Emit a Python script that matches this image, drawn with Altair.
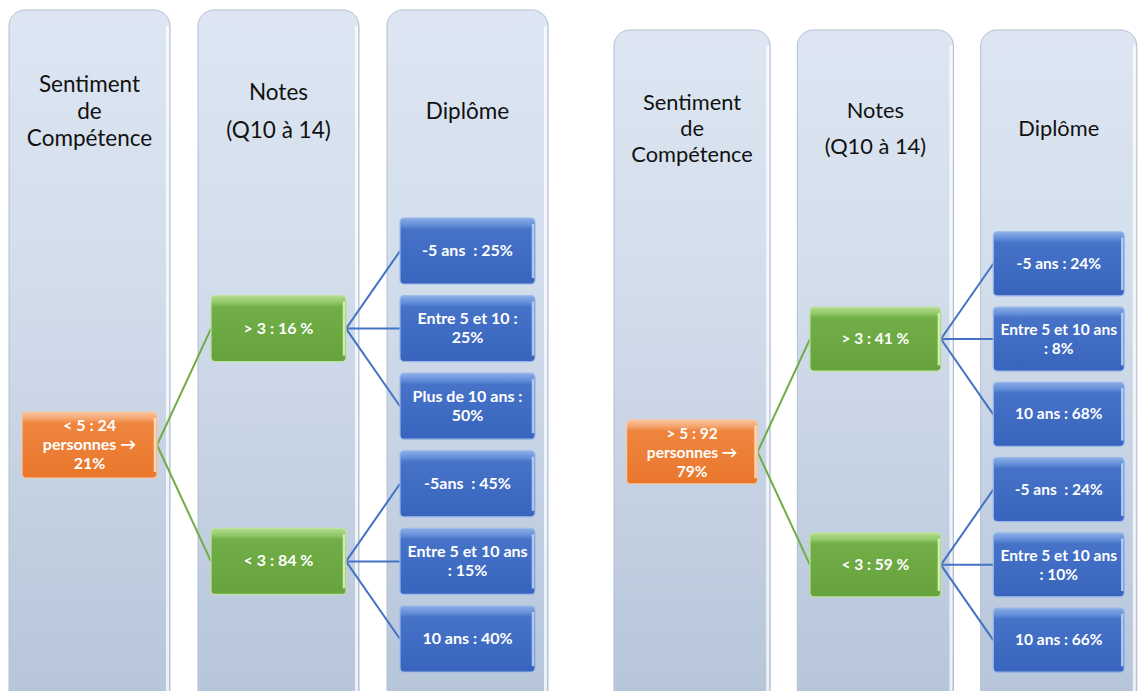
import altair as alt
import pandas as pd

# ---------------- data ----------------
col_titles = [["Sentiment", "de", "Compétence"], ["Notes", "(Q10 à 14)"], ["Diplôme"]]
root_labels = ["< 5 : 24\npersonnes →\n21%", "> 5 : 92\npersonnes →\n79%"]
mid_labels = [["> 3 : 16 %", "< 3 : 84 %"], ["> 3 : 41 %", "< 3 : 59 %"]]
leaf_labels = [
    ["-5 ans  : 25%", "Entre 5 et 10 :\n25%", "Plus de 10 ans :\n50%",
     "-5ans  : 45%", "Entre 5 et 10 ans\n: 15%", "10 ans : 40%"],
    ["-5 ans : 24%", "Entre 5 et 10 ans\n: 8%", "10 ans : 68%",
     "-5 ans  : 24%", "Entre 5 et 10 ans\n: 10%", "10 ans : 66%"],
]

# ---------------- layout (diagram geometry) ----------------
PANELS = [dict(ox=9, oy=10, s=1.0), dict(ox=614, oy=30, s=0.97)]
COL_STEP, COL_W, COL_H = 189, 161, 730
BOX_INSET, BOX_W, BOX_H = 13, 135, 66
LEAF_TOP, LEAF_STEP = 208, 77.6
TITLE_CY = 102
TITLE_SPACING = [27, 38, 27]
BOX_FS, BOX_LH, TITLE_FS = 16, 19, 22.5
W, H = 1130, 683
X0, Y0 = 8, 8

cols, titles, nodes, edges = [], [], [], []
for p, P in enumerate(PANELS):
    s, ox, oy = P["s"], P["ox"], P["oy"]
    X = lambda v: ox + s * v
    Y = lambda v: oy + s * v
    for c in range(3):
        cols.append(dict(x=X(c * COL_STEP), x2=X(c * COL_STEP + COL_W), y=Y(0), y2=Y(COL_H),
                         hx=X(c * COL_STEP + COL_W) - 2.5, hy=Y(16), hy2=Y(COL_H - 16)))
        lines = col_titles[c]
        n = len(lines)
        for i, t in enumerate(lines):
            titles.append(dict(x=X(c * COL_STEP + COL_W / 2),
                               y=Y(TITLE_CY + (i - (n - 1) / 2) * TITLE_SPACING[c]),
                               text=t, fs=TITLE_FS * s))

    def box(level, slot, label):
        x1 = level * COL_STEP + BOX_INSET
        top = LEAF_TOP + slot * LEAF_STEP
        nl = label.count("\n") + 1
        d = dict(level=level, text=label.replace("  ", " \u00a0"),
                 x=X(x1), x2=X(x1 + BOX_W), y=Y(top), y2=Y(top + BOX_H),
                 cx=X(x1 + BOX_W / 2), cy=Y(top + BOX_H / 2),
                 ty=Y(top + BOX_H / 2 - (nl - 1) * BOX_LH / 2),
                 hx=X(x1 + BOX_W) - 2, hy=Y(top + 6), hy2=Y(top + BOX_H - 6),
                 fs=BOX_FS * s, panel=p)
        nodes.append(d)
        return d

    leaf_slots = list(range(len(leaf_labels[p])))
    groups = [leaf_slots[0:3], leaf_slots[3:6]]
    mid_slots = [sum(g) / len(g) for g in groups]
    root_slot = sum(mid_slots) / len(mid_slots)
    r = box(0, root_slot, root_labels[p])
    for m, g in enumerate(groups):
        mb = box(1, mid_slots[m], mid_labels[p][m])
        edges.append(dict(level=1, x=r["x2"], y=r["cy"], x2=mb["x"], y2=mb["cy"]))
        for j in g:
            lb = box(2, j, leaf_labels[p][j])
            edges.append(dict(level=2, x=mb["x2"], y=mb["cy"], x2=lb["x"], y2=lb["cy"]))

cols_df = pd.DataFrame(cols)
titles_df = pd.DataFrame(titles)
nodes_df = pd.DataFrame(nodes)
edges_df = pd.DataFrame(edges)

xs = alt.Scale(domain=[X0, X0 + W])
ys = alt.Scale(domain=[Y0, Y0 + H], reverse=True)


def grad(stops):
    return alt.Gradient(gradient="linear", x1=0, y1=0, x2=0, y2=1,
                        stops=[alt.GradientStop(offset=o, color=c) for o, c in stops])


col_layer = alt.Chart(cols_df).mark_rect(
    cornerRadius=16, clip=True, stroke="#b3bfd0", strokeWidth=1,
    fill=grad([(0, "#dde6f2"), (0.35, "#d3deec"), (1, "#b4c3d8")])
).encode(
    x=alt.X("x:Q", scale=xs, axis=None), x2="x2:Q",
    y=alt.Y("y:Q", scale=ys, axis=None), y2="y2:Q",
)

col_hl = alt.Chart(cols_df).mark_rule(
    color="white", strokeWidth=3, opacity=0.75, clip=True
).encode(
    x=alt.X("hx:Q", scale=xs), y=alt.Y("hy:Q", scale=ys), y2="hy2:Q"
)

title_layer = alt.Chart(titles_df).mark_text(
    font="Lato", color="#111111", align="center", baseline="middle"
).encode(
    x=alt.X("x:Q", scale=xs), y=alt.Y("y:Q", scale=ys),
    text="text:N", size=alt.Size("fs:Q", scale=None, legend=None),
)

edge_colors = {1: "#70ad47", 2: "#4472c4"}
edge_layers = []
for lvl, colr in edge_colors.items():
    edge_layers.append(
        alt.Chart(edges_df[edges_df.level == lvl]).mark_rule(color=colr, strokeWidth=2).encode(
            x=alt.X("x:Q", scale=xs), y=alt.Y("y:Q", scale=ys), x2="x2:Q", y2="y2:Q"
        )
    )

box_styles = {
    0: ([(0, "#fbc49e"), (0.1, "#f4a56f"), (0.17, "#ef853e"), (1, "#e9772c")], "#f9c9a6", "#fde3c4"),
    1: ([(0, "#b3dc8f"), (0.1, "#93c96a"), (0.17, "#72ae48"), (1, "#66a33d")], "#bfe3a0", "#d9f5b8"),
    2: ([(0, "#8aaee6"), (0.1, "#6790da"), (0.17, "#4673c8"), (1, "#3864bd")], "#9ab8ea", "#b9d2f5"),
}
box_layers = []
for lvl, (stops, strk, hl) in box_styles.items():
    sub = nodes_df[nodes_df.level == lvl]
    box_layers.append(
        alt.Chart(sub).mark_rect(
            cornerRadius=4, fill=grad(stops), stroke=strk, strokeWidth=1.2
        ).encode(
            x=alt.X("x:Q", scale=xs), x2="x2:Q", y=alt.Y("y:Q", scale=ys), y2="y2:Q"
        )
    )
    box_layers.append(
        alt.Chart(sub).mark_rule(color=hl, strokeWidth=2.5, opacity=0.9).encode(
            x=alt.X("hx:Q", scale=xs), y=alt.Y("hy:Q", scale=ys), y2="hy2:Q"
        )
    )

node_text = alt.Chart(nodes_df).mark_text(
    font="Lato", fontWeight="bold", color="white", align="center", baseline="middle",
    lineBreak="\n", lineHeight=BOX_LH
).encode(
    x=alt.X("cx:Q", scale=xs), y=alt.Y("ty:Q", scale=ys),
    text="text:N", size=alt.Size("fs:Q", scale=None, legend=None),
)

chart = alt.layer(col_layer, col_hl, title_layer, *edge_layers, *box_layers, node_text).properties(
    width=W, height=H, padding=0, background="white"
).configure_view(stroke=None)

chart.save("out.html", embed_options={"renderer": "svg", "actions": False})
